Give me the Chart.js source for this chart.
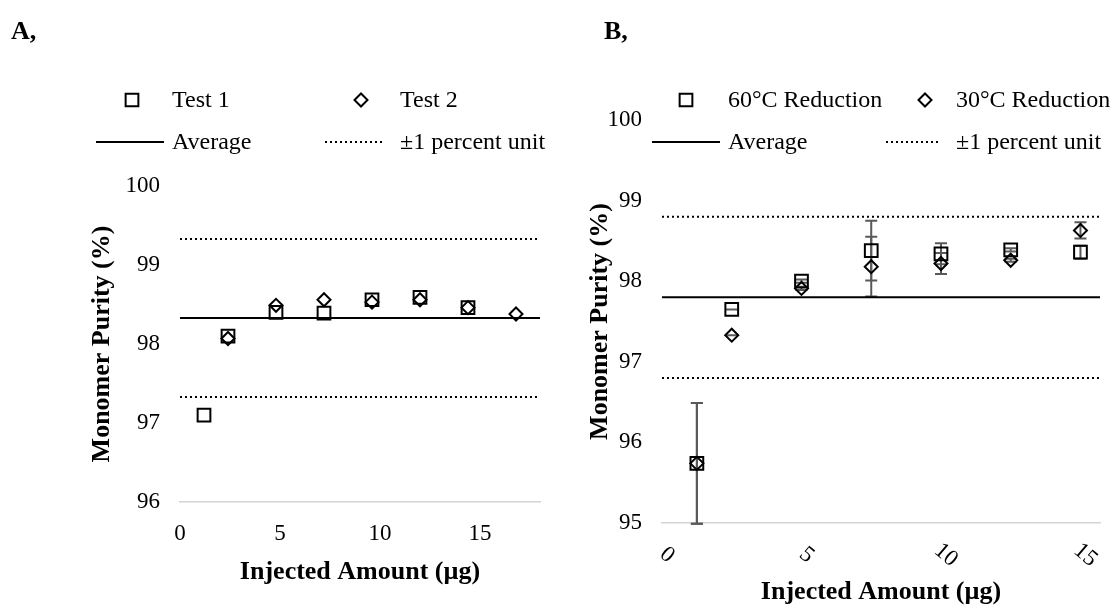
<!DOCTYPE html>
<html><head><meta charset="utf-8">
<script src="https://cdn.jsdelivr.net/npm/chart.js@4.4.1/dist/chart.umd.min.js"></script>
<style>
html,body{margin:0;padding:0;background:#fff;}
#wrap{position:relative;width:1120px;height:610px;overflow:hidden;font-family:'Liberation Serif','Times New Roman',serif;}
.panel{position:absolute;top:0;width:560px;height:610px;}
#pA{left:0}
#pB{left:560px}
.tag{position:absolute;top:18px;font-weight:bold;font-size:26px;line-height:1;color:#000;}
</style></head><body>
<div id="wrap">
  <div class="panel" id="pA"><canvas id="cA" width="560" height="610"></canvas></div>
  <div class="panel" id="pB"><canvas id="cB" width="560" height="610"></canvas></div>
  <div class="tag" style="left:11px">A,</div>
  <div class="tag" style="left:604px">B,</div>
</div>
<script>
// ---------- data ----------
const xA = [1.2, 2.4, 4.8, 7.2, 9.6, 12.0, 14.4, 16.8];
const test1 = [97.10, 98.10, 98.40, 98.39, 98.56, 98.59, 98.46, null];
const test2 = [null, 98.07, 98.49, 98.56, 98.53, 98.56, 98.46, 98.38];
const averageA = 98.33;
const xRangeA = [0, 18];
const yRangeA = [96, 100];
const xTicksA = [0, 5, 10, 15];
const yTicksA = [96, 97, 98, 99, 100];

const xB = [1.25, 2.5, 5, 7.5, 10, 12.5, 15];
const red60 = [95.74, 97.65, 98.00, 98.38, 98.34, 98.39, 98.36];
const err60 = [0.75, 0.00, 0.02, 0.37, 0.13, 0.02, 0.08];
const red30 = [95.74, 97.33, 97.91, 98.18, 98.22, 98.26, 98.63];
const err30 = [0.75, 0.00, 0.02, 0.37, 0.13, 0.02, 0.10];
const averageB = 97.80;
const xRangeB = [0, 15.7];
const yRangeB = [95, 100];
const xTicksB = [0, 5, 10, 15];
const yTicksB = [95, 96, 97, 98, 99, 100];

const band = 1; // ±1 percent unit

// ---------- helpers ----------
const FONT = "'Liberation Serif','Times New Roman',serif";
Chart.defaults.font.family = FONT;
Chart.defaults.color = '#000';

const pts = (xs, ys) => xs.map((x, i) => ({x, y: ys[i]})).filter(p => p.y !== null);
const hline = (range, v) => [{x: range[0], y: v}, {x: range[1], y: v}];

const sqStyle = {pointStyle: 'rect', radius: 9};
const diaStyle = {pointStyle: 'rectRot', radius: 6.5};

function seriesDatasets(range, avg, s1, s2) {
  return [
    {label: s1.label, data: s1.data, pointStyle: 'rect', pointRadius: 9, pointBorderWidth: 2,
     pointBorderColor: '#000', pointBackgroundColor: 'rgba(0,0,0,0)', showLine: false, order: 2},
    {label: s2.label, data: s2.data, pointStyle: 'rectRot', pointRadius: 6.5, pointBorderWidth: 2,
     pointBorderColor: '#000', pointBackgroundColor: 'rgba(0,0,0,0)', showLine: false, order: 1},
    {label: 'Average', data: hline(range, avg), showLine: true, borderColor: '#000', borderWidth: 2, pointRadius: 0, order: 3},
    {label: '+1', data: hline(range, avg + band), showLine: true, borderColor: '#000', borderWidth: 2,
     borderDash: [2, 3], pointRadius: 0, order: 3},
    {label: '-1', data: hline(range, avg - band), showLine: true, borderColor: '#000', borderWidth: 2,
     borderDash: [2, 3], pointRadius: 0, order: 3}
  ];
}

function legendPlugin(items) {
  return {
    id: 'customLegend',
    afterDraw(chart) {
      const ctx = chart.ctx;
      ctx.save();
      ctx.textBaseline = 'middle';
      ctx.textAlign = 'left';
      items.forEach(it => {
        ctx.strokeStyle = '#000';
        ctx.lineWidth = 2;
        if (it.kind === 'point') {
          ctx.fillStyle = 'rgba(0,0,0,0)';
          Chart.helpers.drawPoint(ctx, {pointStyle: it.style.pointStyle, radius: it.style.radius, rotation: 0, borderWidth: 2}, it.x, it.y);
        } else {
          ctx.beginPath();
          ctx.setLineDash(it.dash || []);
          ctx.moveTo(it.x1, it.y);
          ctx.lineTo(it.x2, it.y);
          ctx.stroke();
          ctx.setLineDash([]);
        }
        ctx.font = '24px ' + FONT;
        ctx.fillStyle = '#000';
        ctx.fillText(it.text, it.tx, it.y + 1);
      });
      ctx.restore();
    }
  };
}

function errorBarPlugin(sets) {
  return {
    id: 'errorBars',
    beforeDatasetsDraw(chart) {
      const {ctx, scales: {x, y}} = chart;
      ctx.save();
      ctx.strokeStyle = '#595959';
      ctx.lineWidth = 2;
      sets.forEach(s => {
        s.x.forEach((xv, i) => {
          const px = x.getPixelForValue(xv);
          const top = y.getPixelForValue(s.y[i] + s.e[i]);
          const bot = y.getPixelForValue(s.y[i] - s.e[i]);
          ctx.beginPath();
          ctx.moveTo(px, top); ctx.lineTo(px, bot);
          ctx.moveTo(px - 6, top); ctx.lineTo(px + 6, top);
          ctx.moveTo(px - 6, bot); ctx.lineTo(px + 6, bot);
          ctx.stroke();
        });
      });
      ctx.restore();
    }
  };
}

function rotatedXTicks(values) {
  return {
    id: 'rotTicks',
    afterDraw(chart) {
      const {ctx, scales: {x}} = chart;
      ctx.save();
      ctx.font = '23px ' + FONT;
      ctx.fillStyle = '#000';
      ctx.textAlign = 'center';
      ctx.textBaseline = 'middle';
      values.forEach(v => {
        const px = x.getPixelForValue(v);
        ctx.save();
        ctx.translate(px + 5, x.top + 32);
        ctx.rotate(40 * Math.PI / 180);
        ctx.fillText(String(v), 0, 0);
        ctx.restore();
      });
      ctx.restore();
    }
  };
}

function axes(xr, yr, xt, yt, opt) {
  return {
    x: {
      type: 'linear', min: xr[0], max: xr[1],
      afterBuildTicks: s => { s.ticks = xt.map(v => ({value: v})); },
      grid: {display: false, drawTicks: false},
      border: {display: true, color: '#d4d4d4', width: 1.5},
      ticks: {display: opt.xTicksShown, font: {size: 23}, padding: opt.xTickPad, maxRotation: 0, minRotation: 0},
      title: {display: true, text: 'Injected Amount (µg)', font: {size: 26, weight: 'bold'}, padding: {top: 0, bottom: opt.xTitlePad}},
      afterFit: s => { s.height = opt.xHeight; }
    },
    y: {
      type: 'linear', min: yr[0], max: yr[1],
      afterBuildTicks: s => { s.ticks = yt.map(v => ({value: v})); },
      grid: {display: false, drawTicks: false},
      border: {display: false},
      ticks: {font: {size: 23}, padding: 20},
      title: {display: true, text: 'Monomer Purity (%)', font: {size: 26, weight: 'bold'}, padding: {top: 0, bottom: 0}},
      afterFit: s => { s.width = opt.yWidth; }
    }
  };
}

// ---------- Chart A ----------
new Chart(document.getElementById('cA'), {
  type: 'scatter',
  data: {datasets: seriesDatasets(xRangeA, averageA,
    {label: 'Test 1', data: pts(xA, test1)},
    {label: 'Test 2', data: pts(xA, test2)})},
  options: {
    responsive: false, animation: false, events: [],
    layout: {padding: {left: 87, top: 186, right: 20, bottom: 0}},
    plugins: {legend: {display: false}, tooltip: {enabled: false}},
    scales: axes(xRangeA, yRangeA, xTicksA, yTicksA, {xTicksShown: true, xTickPad: 18, xTitlePad: 22, xHeight: 108, yWidth: 93})
  },
  plugins: [legendPlugin([
    {kind: 'point', style: sqStyle, x: 132, y: 100, text: 'Test 1', tx: 172},
    {kind: 'point', style: diaStyle, x: 361, y: 100, text: 'Test 2', tx: 400},
    {kind: 'line', x1: 96, x2: 164, y: 142, text: 'Average', tx: 172},
    {kind: 'line', dash: [2, 3], x1: 325, x2: 382, y: 142, text: '±1 percent unit', tx: 400}
  ])]
});

// ---------- Chart B ----------
new Chart(document.getElementById('cB'), {
  type: 'scatter',
  data: {datasets: seriesDatasets(xRangeB, averageB,
    {label: '60°C Reduction', data: pts(xB, red60)},
    {label: '30°C Reduction', data: pts(xB, red30)})},
  options: {
    responsive: false, animation: false, events: [],
    layout: {padding: {left: 25, top: 120, right: 20, bottom: 0}},
    plugins: {legend: {display: false}, tooltip: {enabled: false}},
    scales: axes(xRangeB, yRangeB, xTicksB, yTicksB, {xTicksShown: false, xTickPad: 0, xTitlePad: 2, xHeight: 87, yWidth: 77})
  },
  plugins: [
    errorBarPlugin([{x: xB, y: red60, e: err60}, {x: xB, y: red30, e: err30}]),
    rotatedXTicks(xTicksB),
    legendPlugin([
      {kind: 'point', style: sqStyle, x: 126, y: 100, text: '60°C Reduction', tx: 168},
      {kind: 'point', style: diaStyle, x: 365, y: 100, text: '30°C Reduction', tx: 396},
      {kind: 'line', x1: 92, x2: 160, y: 142, text: 'Average', tx: 168},
      {kind: 'line', dash: [2, 3], x1: 326, x2: 381, y: 142, text: '±1 percent unit', tx: 396}
    ])
  ]
});
</script>
</body></html>
